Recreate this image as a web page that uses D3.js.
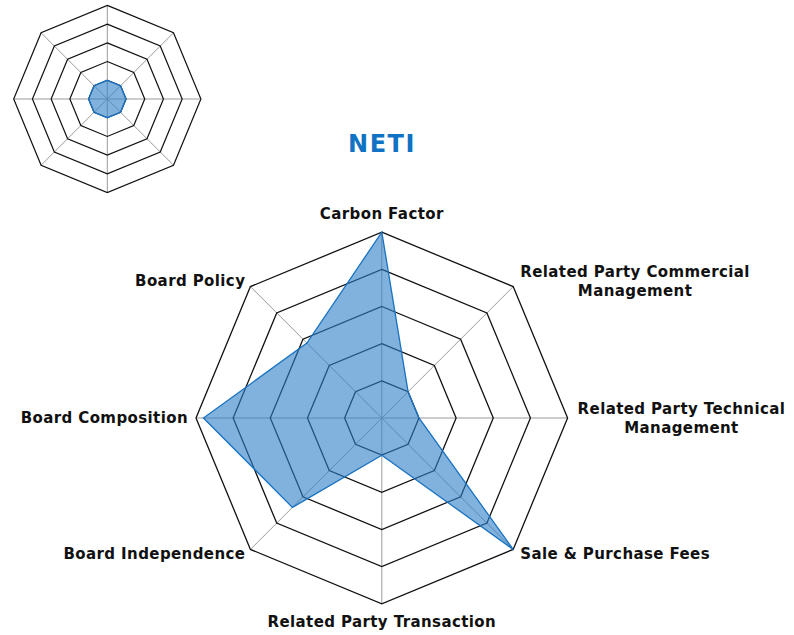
<!DOCTYPE html>
<html>
<head>
<meta charset="utf-8">
<script src="https://cdn.jsdelivr.net/npm/d3@7/dist/d3.min.js"></script>
<style>
  body { margin: 0; background: #fff; }
  svg { display: block; font-family: "DejaVu Sans", Verdana, sans-serif; }
</style>
</head>
<body>
<svg id="chart" width="794" height="635"></svg>
<script>
// axes, clockwise from the top
var axes = [
    ["Carbon Factor"],
    ["Related Party Commercial", "Management"],
    ["Related Party Technical", "Management"],
    ["Sale & Purchase Fees"],
    ["Related Party Transaction"],
    ["Board Independence"],
    ["Board Composition"],
    ["Board Policy"]
];
var scores = [5, 1, 1, 5, 1, 3.4, 4.8, 2.85];
var logoScores = [1, 1, 1, 1, 1, 1, 1, 1];
var levels = [1, 2, 3, 4, 5];
var title = "NETI";

var svg = d3.select("#chart");
var n = axes.length;
var angle = d3.scaleLinear().domain([0, n]).range([0, 2 * Math.PI]);

function point(r, i) {
    var a = angle(i);
    return [r * Math.sin(a), -r * Math.cos(a)];
}

function drawRadar(g, radius, values, strokeW) {
    var r = d3.scaleLinear().domain([0, 5]).range([0, radius]);

    // spokes
    g.selectAll(".spoke")
        .data(d3.range(n))
        .enter()
        .append("line")
        .attr("x1", 0).attr("y1", 0)
        .attr("x2", function (i) { return point(r(5), i)[0]; })
        .attr("y2", function (i) { return point(r(5), i)[1]; })
        .attr("stroke", "#9a9a9a")
        .attr("stroke-width", 1);

    // rings
    g.selectAll(".ring")
        .data(levels)
        .enter()
        .append("polygon")
        .attr("points", function (l) {
            return d3.range(n).map(function (i) { return point(r(l), i); }).join(" ");
        })
        .attr("fill", "none")
        .attr("stroke", "#111")
        .attr("stroke-width", strokeW);

    // data area
    g.append("polygon")
        .attr("points", values.map(function (v, i) { return point(r(v), i); }).join(" "))
        .attr("fill", "#2b7fc7")
        .attr("fill-opacity", 0.6)
        .attr("stroke", "#1a72c0")
        .attr("stroke-width", 1.3);

    return r;
}

// small logo radar, top left
var logo = svg.append("g").attr("transform", "translate(107.3,99)");
drawRadar(logo, 93.6, logoScores, 1.2);

// title
svg.append("text")
    .attr("x", 382)
    .attr("y", 152)
    .attr("text-anchor", "middle")
    .attr("font-size", 24)
    .attr("font-weight", "bold")
    .attr("letter-spacing", 1.5)
    .attr("fill", "#0f72c2")
    .text(title);

// main radar
var cx = 381.8, cy = 418, radius = 185.8;
var main = svg.append("g").attr("transform", "translate(" + cx + "," + cy + ")");
var r = drawRadar(main, radius, scores, 1.3);

// axis labels
var fontSize = 15, lineH = 19.5, gap = 10;
axes.forEach(function (lines, i) {
    var p = point(r(5) + gap, i);
    var s = Math.sin(angle(i)), c = Math.cos(angle(i));
    var t = main.append("text")
        .attr("font-size", fontSize)
        .attr("font-weight", "bold")
        .attr("letter-spacing", 0.4)
        .attr("fill", "#111");
    lines.forEach(function (line, k) {
        t.append("tspan").attr("x", 0).attr("dy", k === 0 ? 0 : lineH).text(line);
    });
    var w = 0;
    t.selectAll("tspan").each(function () { w = Math.max(w, this.getComputedTextLength()); });
    var blockH = lines.length * lineH;
    var x, top;
    if (Math.abs(s) < 0.01) {
        x = p[0];
        top = c > 0 ? p[1] - blockH + 1 : p[1] - 2;
    } else {
        x = s > 0 ? p[0] + w / 2 : p[0] - w / 2 + 2;
        top = p[1] - blockH / 2;
        if (c > 0.1) top += 1.5;
        if (c < -0.1) top -= 3;
    }
    t.attr("text-anchor", "middle")
        .attr("transform", "translate(" + x + "," + (top + lineH / 2 + fontSize * 0.36) + ")");
});
</script>
</body>
</html>
